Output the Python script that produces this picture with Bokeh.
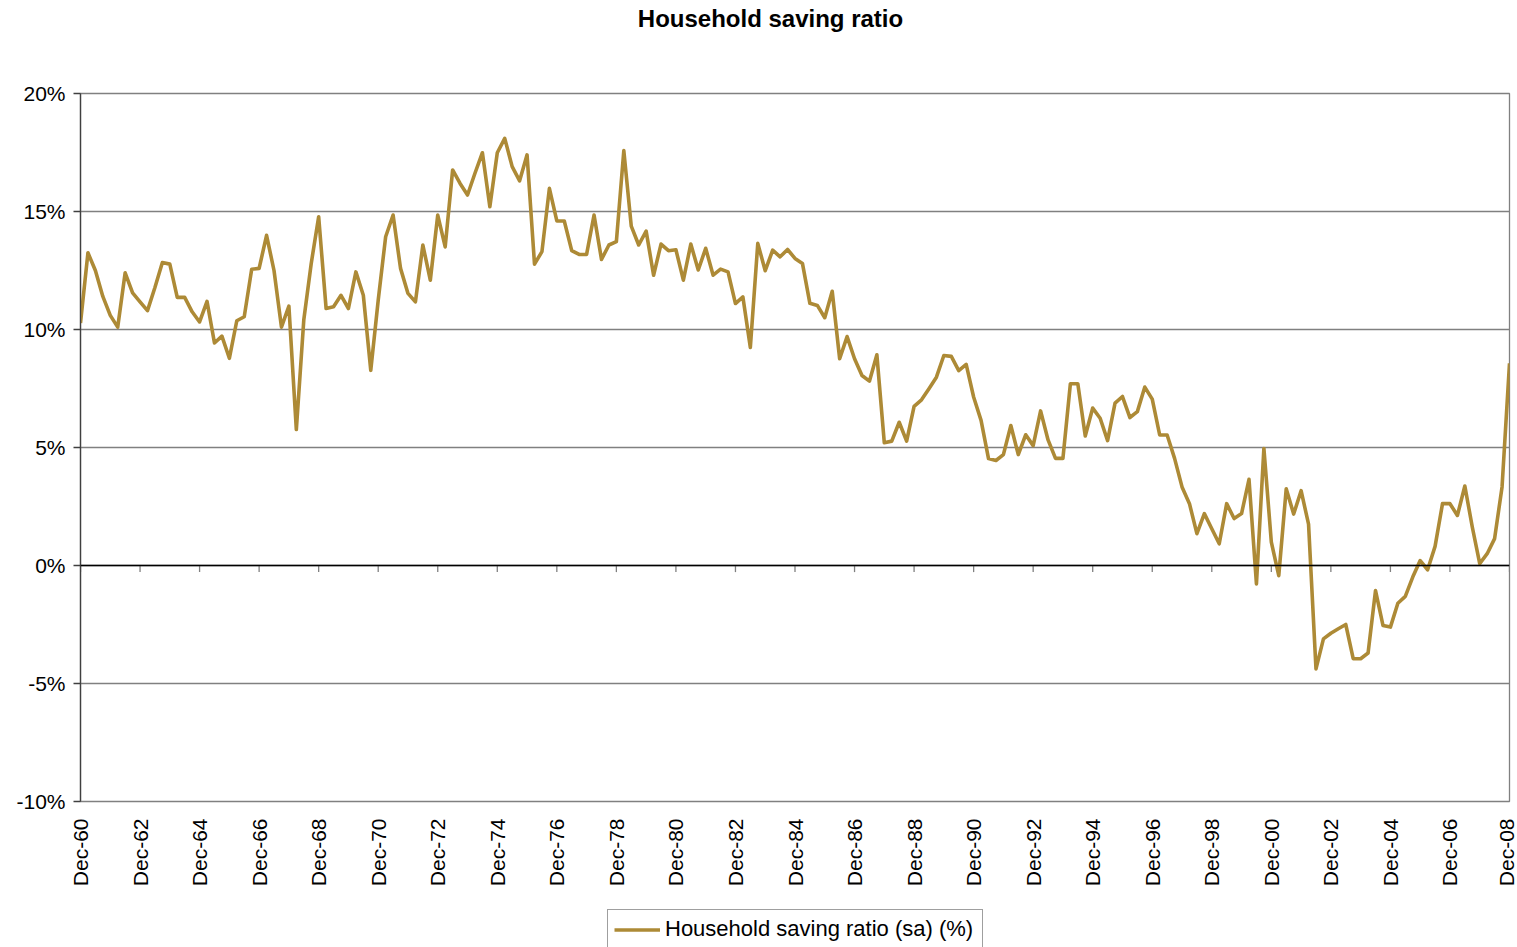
from math import pi

from bokeh.embed import file_html
from bokeh.layouts import column
from bokeh.models import (FixedTicker, Label, Legend, LegendItem,
                          PrintfTickFormatter, Range1d, Span)
from bokeh.plotting import figure
from bokeh.resources import INLINE

# Quarterly household saving ratio, seasonally adjusted (%), Dec-60 .. Dec-08
saving_ratio = [
    10.27, 13.25, 12.5, 11.4, 10.6, 10.1, 12.4, 11.55, 11.17, 10.8,
    11.78, 12.84, 12.77, 11.36, 11.36, 10.75, 10.32, 11.19, 9.43, 9.72,
    8.78, 10.37, 10.54, 12.55, 12.59, 13.99, 12.5, 10.1, 10.99, 5.76,
    10.4, 12.8, 14.78, 10.89, 10.96, 11.45, 10.89, 12.44, 11.45, 8.27,
    11.24, 13.93, 14.85, 12.59, 11.53, 11.17, 13.58, 12.09, 14.85, 13.5,
    16.76, 16.19, 15.7, 16.62, 17.49, 15.2, 17.49, 18.1, 16.9, 16.3,
    17.4, 12.77, 13.3, 15.98, 14.6, 14.6, 13.34, 13.18, 13.18, 14.85,
    12.97, 13.58, 13.72, 17.58, 14.38, 13.58, 14.17, 12.3, 13.62, 13.34,
    13.38, 12.09, 13.62, 12.52, 13.44, 12.3, 12.56, 12.44, 11.1, 11.38,
    9.24, 13.65, 12.49, 13.36, 13.08, 13.39, 13.01, 12.8, 11.11, 11.02,
    10.5, 11.62, 8.76, 9.7, 8.76, 8.05, 7.81, 8.93, 5.2, 5.27,
    6.07, 5.27, 6.74, 7.02, 7.49, 7.98, 8.9, 8.86, 8.26, 8.52,
    7.14, 6.15, 4.53, 4.45, 4.7, 5.93, 4.7, 5.54, 5.08, 6.55,
    5.32, 4.54, 4.54, 7.7, 7.7, 5.49, 6.67, 6.24, 5.29, 6.88,
    7.16, 6.27, 6.52, 7.56, 7.05, 5.53, 5.53, 4.54, 3.33, 2.62,
    1.35, 2.2, 1.56, 0.92, 2.62, 1.99, 2.2, 3.65, -0.78, 4.96,
    0.99, -0.43, 3.25, 2.18, 3.17, 1.75, -4.38, -3.11, -2.87, -2.68,
    -2.5, -3.95, -3.95, -3.71, -1.06, -2.54, -2.61, -1.6, -1.31, -0.49,
    0.21, -0.18, 0.81, 2.62, 2.62, 2.12, 3.37, 1.63, 0.08, 0.5,
    1.14, 3.33, 8.57,
]

tick_labels = [
    "Dec-60", "Dec-62", "Dec-64", "Dec-66", "Dec-68", "Dec-70", "Dec-72",
    "Dec-74", "Dec-76", "Dec-78", "Dec-80", "Dec-82", "Dec-84", "Dec-86",
    "Dec-88", "Dec-90", "Dec-92", "Dec-94", "Dec-96", "Dec-98", "Dec-00",
    "Dec-02", "Dec-04", "Dec-06", "Dec-08",
]
quarters_per_label = 8
y_ticks = [-10, -5, 0, 5, 10, 15, 20]

series_name = "Household saving ratio (sa) (%)"
chart_title = "Household saving ratio"

FONT = "Liberation Sans"
LINE_COLOR = "#AD8A36"
GRID_COLOR = "#808080"
LINE_WIDTH = 3.6

W = 1517
TITLE_H = 40
LEGEND_H = 42
MAIN_H = 947 - TITLE_H - LEGEND_H
FRAME_TOP = 93      # page y of the 20% line
FRAME_H = 708       # 20% .. -10%

quarter_index = list(range(len(saving_ratio)))
tick_pos = [i * quarters_per_label for i in range(len(tick_labels))]


def blank_strip(height):
    """A figure with no axes, grid or border, used for the title and legend rows."""
    f = figure(width=W, height=height, output_backend="svg", toolbar_location=None,
               x_range=Range1d(0, 1), y_range=Range1d(0, 1),
               x_axis_location=None, y_axis_location=None, min_border=0)
    f.xgrid.visible = False
    f.ygrid.visible = False
    f.outline_line_color = None
    f.background_fill_color = "white"
    f.border_fill_color = "white"
    return f


# ---- title row (frame is aligned with the chart frame, 80 px from the left)
title_fig = blank_strip(TITLE_H)
title_fig.add_layout(Label(
    x=690, y=22.3, x_units="screen", y_units="screen",
    text=chart_title, text_font=FONT, text_font_style="bold",
    text_font_size="24px", text_align="center", text_baseline="alphabetic",
    text_color="black",
))

# ---- main chart
p = figure(
    width=W, height=MAIN_H,
    output_backend="svg", toolbar_location=None,
    x_range=Range1d(0, len(saving_ratio) - 1),
    y_range=Range1d(y_ticks[0], y_ticks[-1]),
    min_border_left=80, min_border_right=8,
    min_border_top=FRAME_TOP - TITLE_H,
    min_border_bottom=MAIN_H - (FRAME_TOP - TITLE_H) - FRAME_H,
)
p.background_fill_color = "white"
p.border_fill_color = "white"
p.outline_line_color = GRID_COLOR
p.outline_line_width = 1.3

# horizontal gridlines every 5%
p.xgrid.visible = False
p.ygrid.ticker = FixedTicker(ticks=y_ticks)
p.ygrid.grid_line_color = GRID_COLOR
p.ygrid.grid_line_width = 1.3

# value axis
p.yaxis.ticker = FixedTicker(ticks=y_ticks)
p.yaxis.formatter = PrintfTickFormatter(format="%d%%")
p.yaxis.major_tick_out = 7
p.yaxis.major_tick_in = 0
p.yaxis.minor_tick_line_color = None
p.yaxis.axis_line_color = "#404040"
p.yaxis.axis_line_width = 1.3
p.yaxis.major_tick_line_color = "#404040"
p.yaxis.major_tick_line_width = 1.3
p.yaxis.major_label_standoff = 8
p.yaxis.major_label_text_font = FONT
p.yaxis.major_label_text_font_size = "21px"
p.yaxis.major_label_text_color = "black"

# category axis: labels at the bottom, ticks on the zero line
p.xaxis.ticker = FixedTicker(ticks=tick_pos)
p.xaxis.major_label_overrides = {t: lab for t, lab in zip(tick_pos, tick_labels)}
p.xaxis.major_label_orientation = pi / 2
p.xaxis.axis_line_color = None
p.xaxis.major_tick_line_color = None
p.xaxis.major_tick_out = 0
p.xaxis.major_tick_in = 0
p.xaxis.minor_tick_line_color = None
p.xaxis.major_label_standoff = 17
p.xaxis.major_label_text_font = FONT
p.xaxis.major_label_text_font_size = "21px"
p.xaxis.major_label_text_color = "black"

p.add_layout(Span(location=0, dimension="width", line_color="black", line_width=1.3))
tick_len = 0.28  # in % units, about 6-7 px
p.segment(x0=tick_pos, y0=[0] * len(tick_pos), x1=tick_pos, y1=[-tick_len] * len(tick_pos),
          line_color=GRID_COLOR, line_width=1.3)

p.line(quarter_index, saving_ratio, line_color=LINE_COLOR, line_width=LINE_WIDTH,
       line_join="round")

# ---- legend row; the key renderer is a zero-length line kept outside the strip's range
legend_fig = blank_strip(LEGEND_H)
key = legend_fig.line(x=[0, 0], y=[-1, -1], line_color=LINE_COLOR, line_width=LINE_WIDTH)
legend_fig.add_layout(Legend(
    items=[LegendItem(label=series_name, renderers=[key])],
    location=(527, -2), orientation="horizontal",
    margin=0, padding=6, spacing=0,
    glyph_width=46, glyph_height=23, label_height=23, label_width=311,
    label_standoff=5,
    label_text_font=FONT, label_text_font_size="22px", label_text_color="black",
    border_line_color="#404040", border_line_width=1.3,
    background_fill_color="white", background_fill_alpha=1.0,
))

layout = column(title_fig, p, legend_fig, spacing=0)
open("out.html", "w").write(file_html(layout, INLINE))
